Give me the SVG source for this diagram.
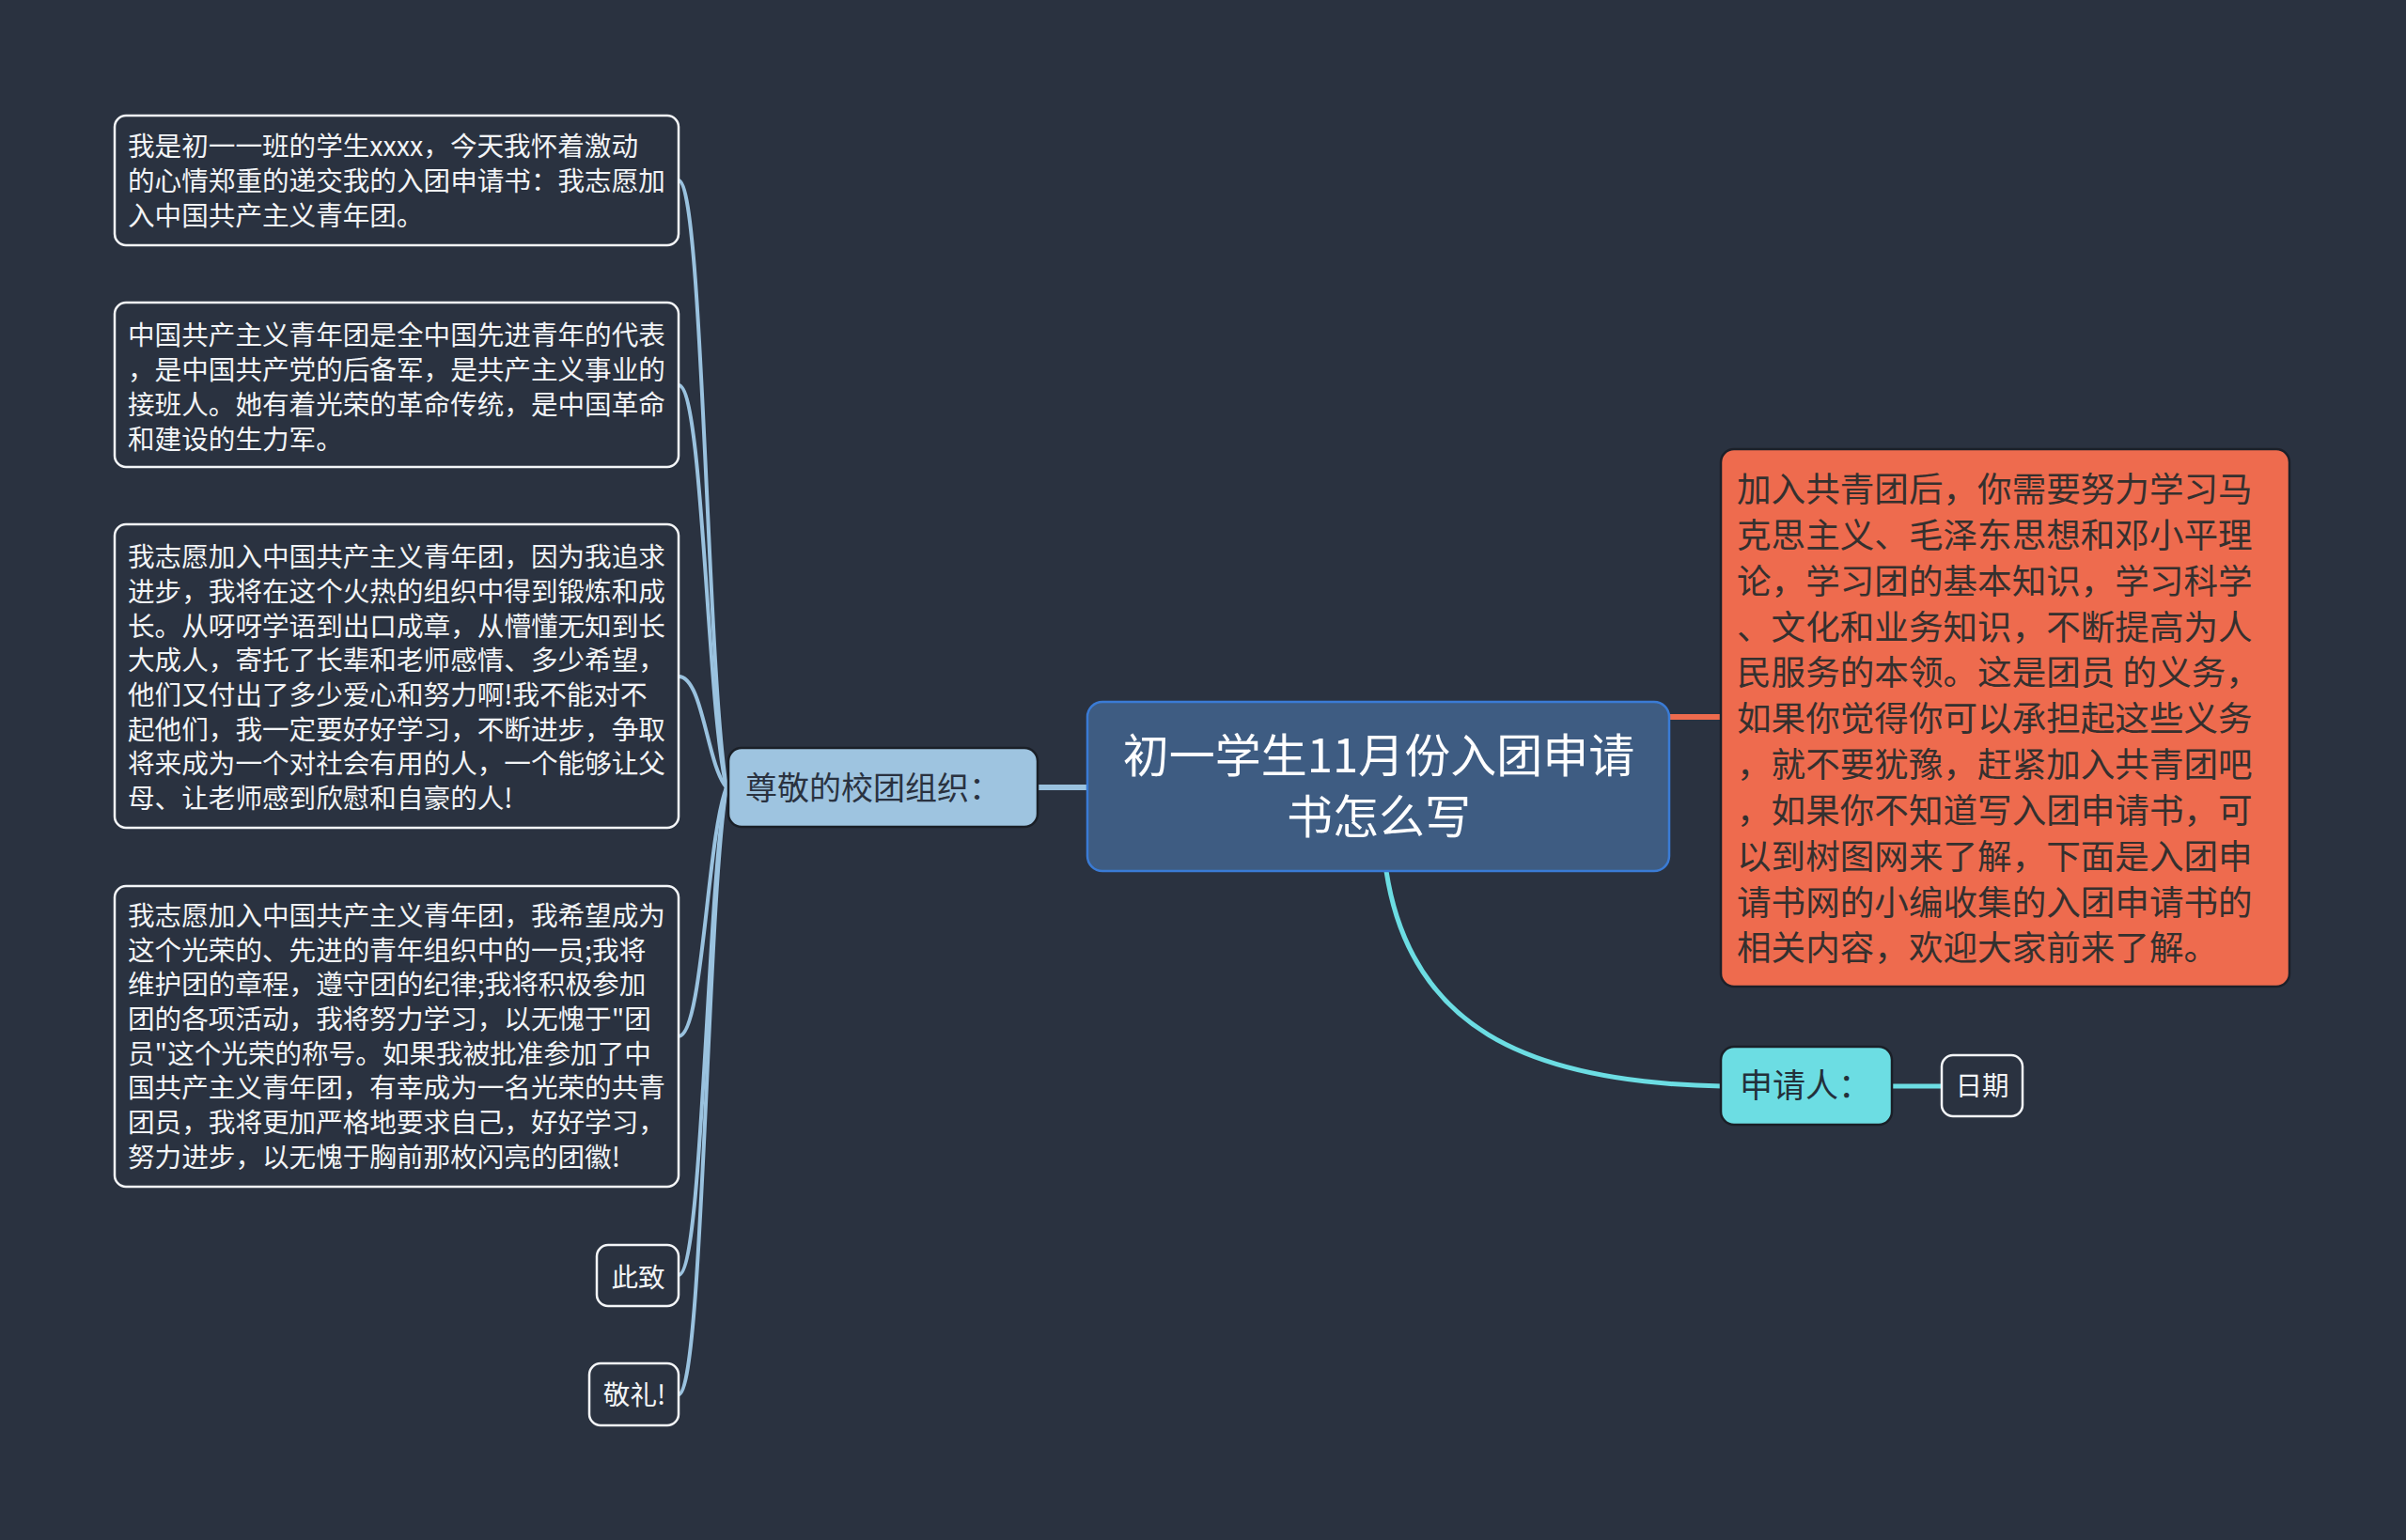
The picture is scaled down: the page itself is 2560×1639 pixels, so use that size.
<svg xmlns="http://www.w3.org/2000/svg" width="2560" height="1639" viewBox="0 0 2560 1639">
<style>
text{font-family:"Noto Sans CJK SC","Noto Sans",sans-serif;}
.leaf{fill:#2a3240;stroke:#f4f6f8;stroke-width:2.5;}
.lt{fill:#f2f4f6;font-size:28.6px;}
.lc{fill:none;stroke:#9ac2df;stroke-width:4;stroke-linecap:round;}
.ot{fill:#35302e;font-size:36.6px;}
</style>
<rect width="2560" height="1639" fill="#2a3240"/>
<g id="connectors">
<path d="M1104 838 H1158" stroke="#9ac2df" stroke-width="6" fill="none"/>
<path class="lc" d="M773 838 C752 709 748 192 722 192"/>
<path class="lc" d="M773 838 C752 752 748 410 722 410"/>
<path class="lc" d="M773 838 C752 814 748 720 722 720"/>
<path class="lc" d="M773 838 C752 891 748 1103 722 1103"/>
<path class="lc" d="M773 838 C752 942 748 1357 722 1357"/>
<path class="lc" d="M773 838 C752 967 748 1484 722 1484"/>
<path d="M1776 763 H1830" stroke="#ee6b4e" stroke-width="6" fill="none"/>
<path d="M1475 927 C1500 1090 1620 1152 1832 1156" stroke="#6cdde3" stroke-width="5" fill="none"/>
<path d="M2013 1156 H2066" stroke="#6cdde3" stroke-width="5" fill="none"/>
</g>
<g id="root">
<rect x="1157" y="747" width="619" height="180" rx="16" fill="#3e5c82" stroke="#3a7bd5" stroke-width="2.5"/>
<text x="1467" y="822" font-size="49" fill="#ffffff" text-anchor="middle">初一学生11月份入团申请</text>
<text x="1467" y="887" font-size="49" fill="#ffffff" text-anchor="middle">书怎么写</text>
</g>
<g id="left-main">
<rect x="775" y="796" width="329" height="84" rx="14" fill="#9ec4e0" stroke="#1a1f27" stroke-width="2.5"/>
<text x="793" y="851" font-size="34" fill="#2a3240">尊敬的校团组织：</text>
</g>
<g id="leaf1">
<rect class="leaf" x="122" y="123" width="600" height="138" rx="12"/>
<text class="lt" x="136" y="166">我是初一一班的学生xxxx，今天我怀着激动</text>
<text class="lt" x="136" y="203">的心情郑重的递交我的入团申请书：我志愿加</text>
<text class="lt" x="136" y="240">入中国共产主义青年团。</text>
</g>
<g id="leaf2">
<rect class="leaf" x="122" y="322" width="600" height="175" rx="12"/>
<text class="lt" x="136" y="367">中国共产主义青年团是全中国先进青年的代表</text>
<text class="lt" x="136" y="404">，是中国共产党的后备军，是共产主义事业的</text>
<text class="lt" x="136" y="441">接班人。她有着光荣的革命传统，是中国革命</text>
<text class="lt" x="136" y="478">和建设的生力军。</text>
</g>
<g id="leaf3">
<rect class="leaf" x="122" y="558" width="600" height="323" rx="12"/>
<text class="lt" x="136" y="603">我志愿加入中国共产主义青年团，因为我追求</text>
<text class="lt" x="136" y="640">进步，我将在这个火热的组织中得到锻炼和成</text>
<text class="lt" x="136" y="677">长。从呀呀学语到出口成章，从懵懂无知到长</text>
<text class="lt" x="136" y="713">大成人，寄托了长辈和老师感情、多少希望，</text>
<text class="lt" x="136" y="750">他们又付出了多少爱心和努力啊!我不能对不</text>
<text class="lt" x="136" y="787">起他们，我一定要好好学习，不断进步，争取</text>
<text class="lt" x="136" y="823">将来成为一个对社会有用的人，一个能够让父</text>
<text class="lt" x="136" y="860">母、让老师感到欣慰和自豪的人!</text>
</g>
<g id="leaf4">
<rect class="leaf" x="122" y="943" width="600" height="320" rx="12"/>
<text class="lt" x="136" y="985">我志愿加入中国共产主义青年团，我希望成为</text>
<text class="lt" x="136" y="1022">这个光荣的、先进的青年组织中的一员;我将</text>
<text class="lt" x="136" y="1058">维护团的章程，遵守团的纪律;我将积极参加</text>
<text class="lt" x="136" y="1095">团的各项活动，我将努力学习，以无愧于"团</text>
<text class="lt" x="136" y="1132">员"这个光荣的称号。如果我被批准参加了中</text>
<text class="lt" x="136" y="1168">国共产主义青年团，有幸成为一名光荣的共青</text>
<text class="lt" x="136" y="1205">团员，我将更加严格地要求自己，好好学习，</text>
<text class="lt" x="136" y="1242">努力进步，以无愧于胸前那枚闪亮的团徽!</text>
</g>
<g id="leaf5">
<rect class="leaf" x="635" y="1325" width="87" height="65" rx="12"/>
<text class="lt" x="679" y="1370" text-anchor="middle">此致</text>
</g>
<g id="leaf6">
<rect class="leaf" x="627" y="1451" width="95" height="66" rx="12"/>
<text class="lt" x="675" y="1495" text-anchor="middle">敬礼!</text>
</g>
<g id="right-orange">
<rect x="1831" y="478" width="605" height="572" rx="14" fill="#ee6b4e" stroke="#1c2029" stroke-width="2.5"/>
<text class="ot" x="1848" y="534">加入共青团后，你需要努力学习马</text>
<text class="ot" x="1848" y="583">克思主义、毛泽东思想和邓小平理</text>
<text class="ot" x="1848" y="632">论，学习团的基本知识，学习科学</text>
<text class="ot" x="1848" y="681">、文化和业务知识，不断提高为人</text>
<text class="ot" x="1848" y="729">民服务的本领。这是团员 的义务，</text>
<text class="ot" x="1848" y="778">如果你觉得你可以承担起这些义务</text>
<text class="ot" x="1848" y="827">，就不要犹豫，赶紧加入共青团吧</text>
<text class="ot" x="1848" y="876">，如果你不知道写入团申请书，可</text>
<text class="ot" x="1848" y="925">以到树图网来了解，下面是入团申</text>
<text class="ot" x="1848" y="974">请书网的小编收集的入团申请书的</text>
<text class="ot" x="1848" y="1022">相关内容，欢迎大家前来了解。</text>
</g>
<g id="right-applicant">
<rect x="1831" y="1114" width="182" height="83" rx="14" fill="#6cdde3" stroke="#1a1f27" stroke-width="2.5"/>
<text x="1851" y="1168" font-size="35" fill="#23303a">申请人：</text>
</g>
<g id="right-date">
<rect class="leaf" x="2066" y="1123" width="86" height="65" rx="12"/>
<text class="lt" x="2109" y="1166" text-anchor="middle">日期</text>
</g>
</svg>
